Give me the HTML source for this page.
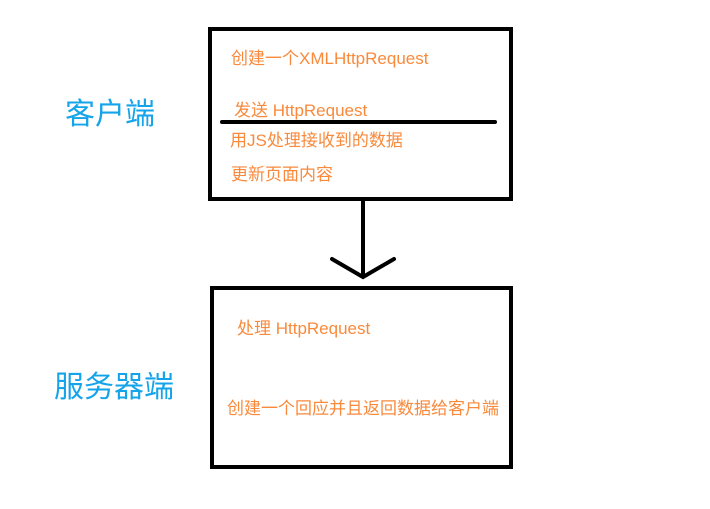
<!DOCTYPE html>
<html><head><meta charset="utf-8"><style>
body{margin:0;width:710px;height:509px;background:#fff;position:relative;overflow:hidden;font-family:"Liberation Sans","Noto Sans CJK SC",sans-serif}
.t{position:absolute;color:#f98a3c;font-size:17px;white-space:nowrap;line-height:20px}
.b{position:absolute;color:#15a4ea;font-size:30px;white-space:nowrap;line-height:36px}
</style></head><body>
<svg width="710" height="509" style="position:absolute;left:0;top:0">
<rect x="210" y="29" width="301" height="170" fill="none" stroke="#000" stroke-width="4"/>
<line x1="222" y1="122" x2="495" y2="122" stroke="#000" stroke-width="4" stroke-linecap="round"/>
<line x1="363" y1="201" x2="363" y2="277" stroke="#000" stroke-width="4"/>
<polyline points="332,259 363,277 394,259" fill="none" stroke="#000" stroke-width="4" stroke-linecap="round"/>
<rect x="212" y="288" width="299" height="179" fill="none" stroke="#000" stroke-width="4"/>
</svg>
<div class="t" style="left:231px;top:49px">创建一个XMLHttpRequest</div>
<div class="t" style="left:234px;top:101px">发送 HttpRequest</div>
<div class="t" style="left:230px;top:131px">用JS处理接收到的数据</div>
<div class="t" style="left:231px;top:165px">更新页面内容</div>
<div class="t" style="left:237px;top:319px">处理 HttpRequest</div>
<div class="t" style="left:227px;top:399px">创建一个回应并且返回数据给客户端</div>
<div class="b" style="left:65px;top:97px">客户端</div>
<div class="b" style="left:54px;top:370px">服务器端</div>
</body></html>
